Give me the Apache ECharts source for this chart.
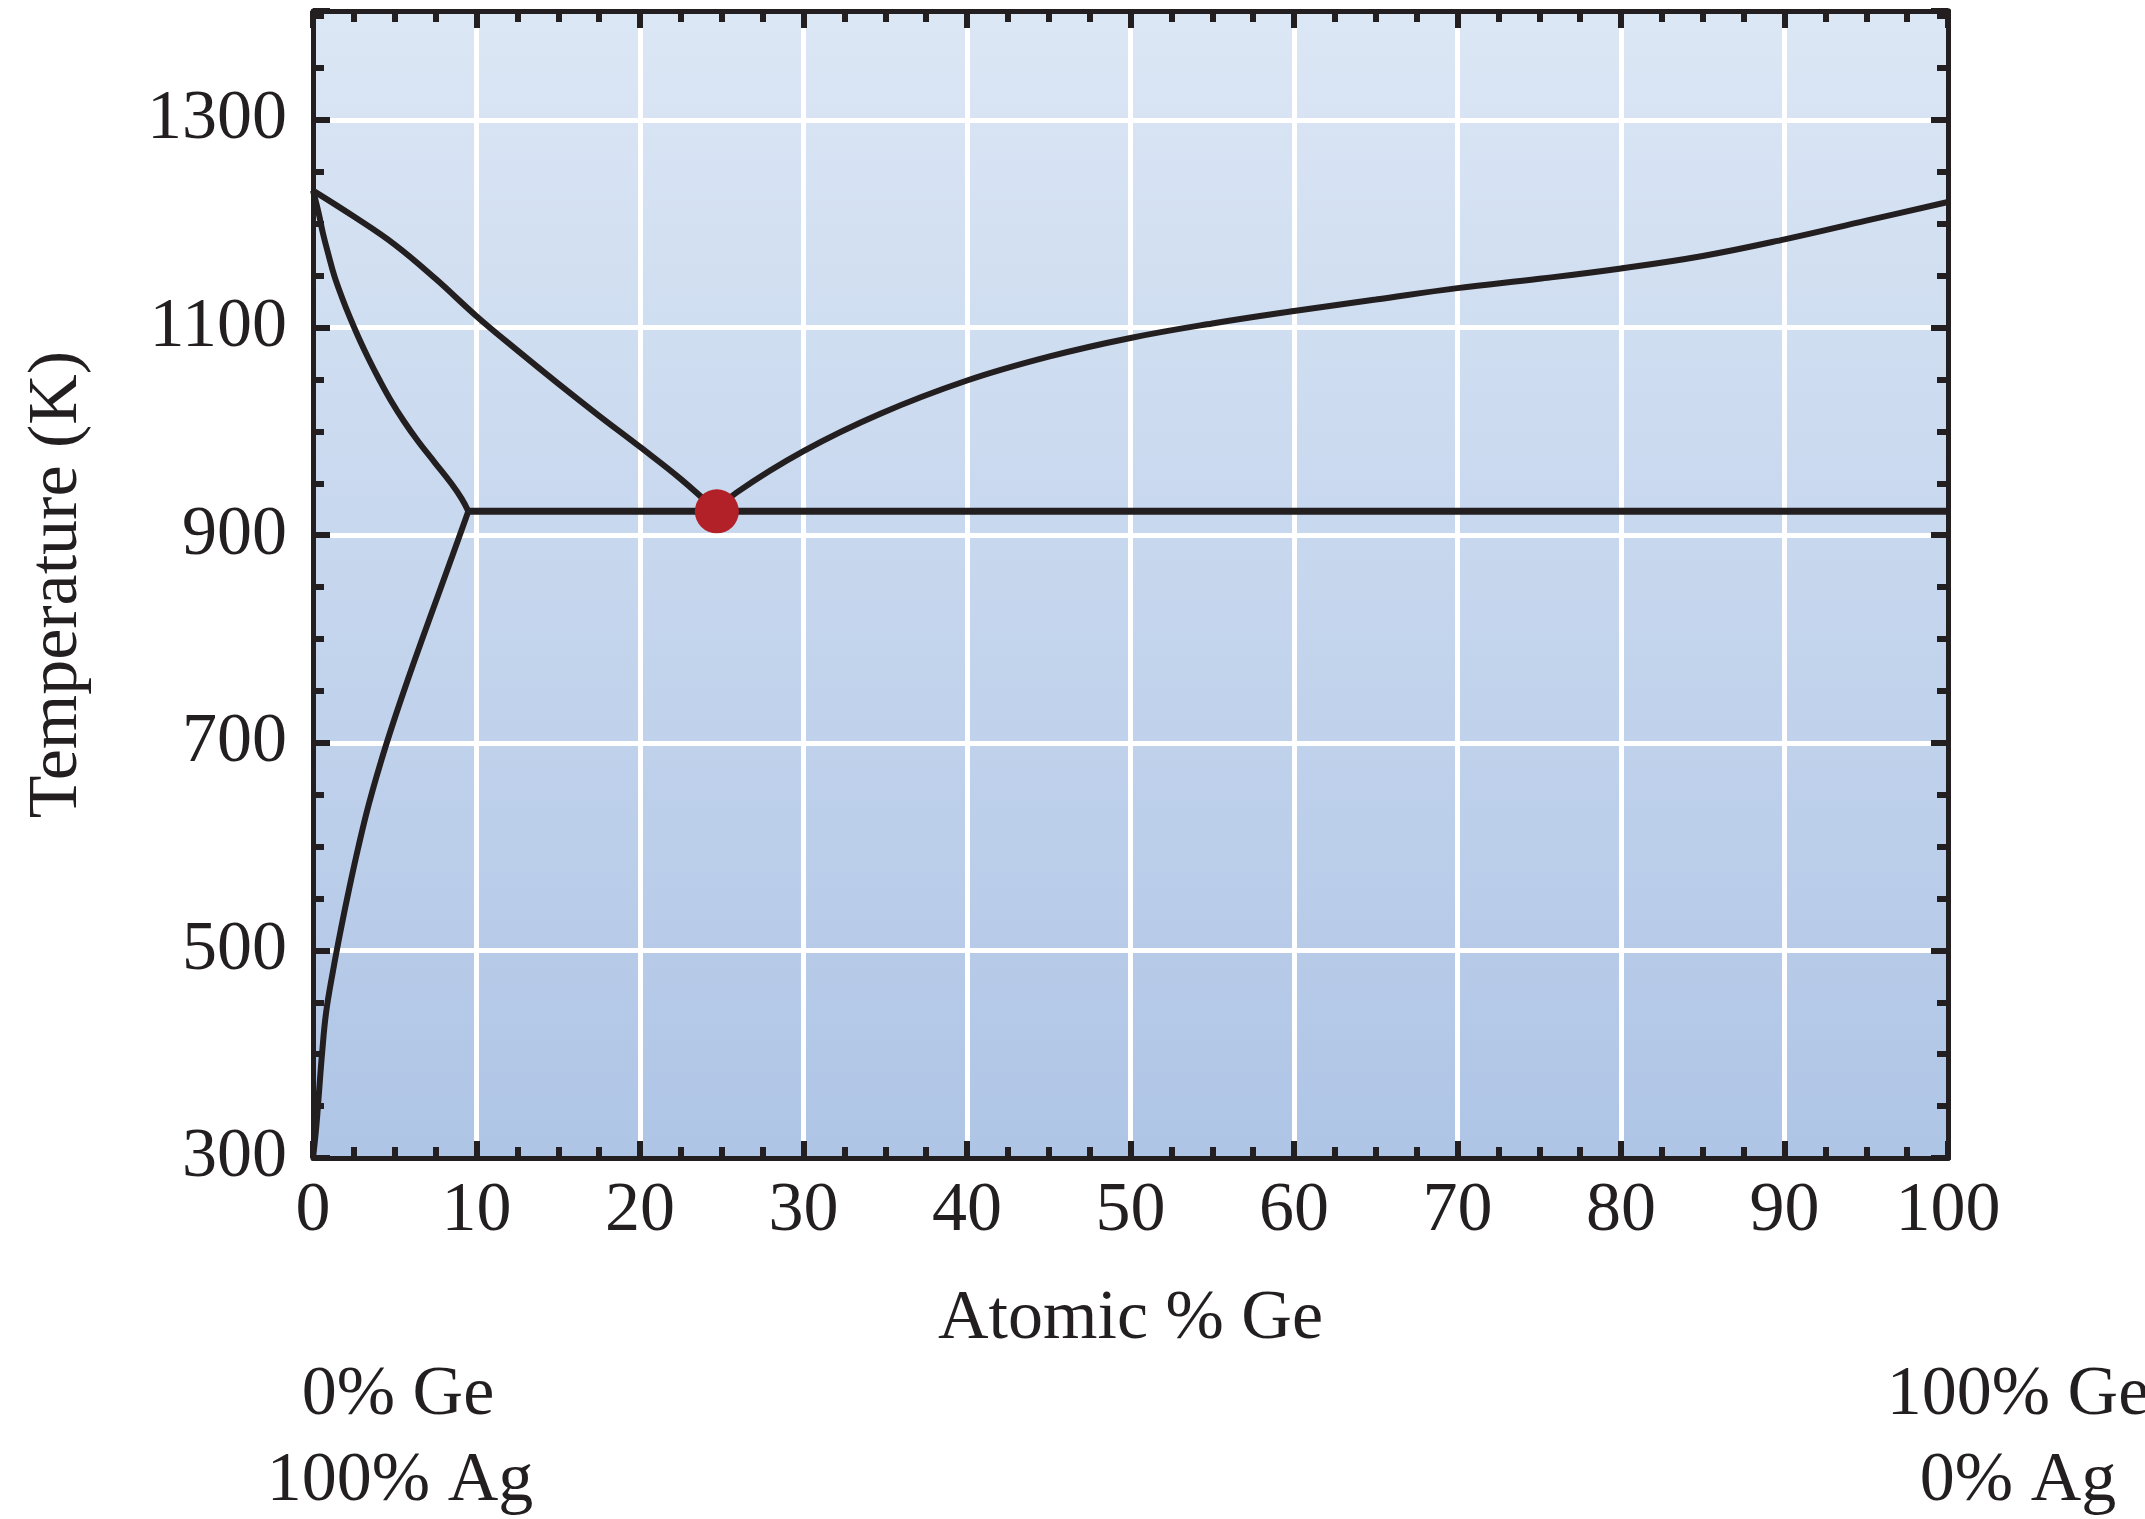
<!DOCTYPE html>
<html>
<head>
<meta charset="utf-8">
<script src="https://cdn.jsdelivr.net/npm/echarts@6/dist/echarts.min.js"></script>
<style>
html,body{margin:0;padding:0;background:#fff;}
#chart{width:2145px;height:1519px;}
</style>
</head>
<body>
<div id="chart"></div>
<script>
// ---- data ----
const liquidusAg = [[0,1232],[2.5,1207],[5,1180],[7.5,1147],[10,1111],[12.5,1078],[15,1046],[17.5,1015],[20,985],[22.5,954],[24.7,923]];
const solidusAg = [[0,1232],[0.35,1210],[0.62,1190],[0.95,1170],[1.3,1150],[1.75,1130],[2.25,1110],[2.8,1090],[3.4,1070],[4.05,1050],[4.75,1030],[5.55,1010],[6.45,990],[7.45,970],[8.45,950],[9.1,935],[9.5,923]];
const solvusAg = [[9.5,923],[8.52,880],[7.6,840],[6.68,800],[5.78,760],[4.92,720],[4.12,680],[3.4,640],[2.78,600],[2.22,560],[1.7,520],[1.22,480],[0.8,440],[0.55,400],[0.35,360],[0.2,330],[0,300]];
const liquidusGe = [[24.7,923],[25.9,941],[30,981],[34.7,1017],[40,1049],[45,1072],[50,1090],[55,1104],[60,1116],[65,1127],[70,1138],[75,1147],[80,1157],[85,1169],[90,1185],[95,1203],[100,1221]];
const eutecticLine = [[9.5,923],[100,923]];
const eutecticPoint = [[24.7,923]];
const xTitle = 'Atomic % Ge';
const yTitle = 'Temperature (K)';
const cornerLabelsLeft = ['0% Ge','100% Ag'];
const cornerLabelsRight = ['100% Ge','0% Ag'];
const yLabelValues = [300,500,700,900,1100,1300];

const INK = '#231f20';
const FONT = '"Liberation Serif", "Times New Roman", serif';
const chart = echarts.init(document.getElementById('chart'));

function lineSeries(name, data) {
  return {
    name, type: 'line', data, showSymbol: false, symbol: 'none',
    smooth: 0.4,
    lineStyle: { color: INK, width: 6 }, z: 3, silent: true
  };
}

const frameLine = { show: true, onZero: false, lineStyle: { color: INK, width: 5 } };
const xBase = { type: 'value', min: 0, max: 100, interval: 10, axisLine: frameLine,
  axisTick: { show: true, inside: true, length: 17, lineStyle: { color: INK, width: 6 } },
  minorTick: { show: true, splitNumber: 4, length: 11, lineStyle: { color: INK, width: 6 } } };
const yMinor = { type: 'value', min: 300, max: 1405, interval: 50, axisLine: frameLine,
  axisTick: { show: true, inside: true, length: 11, lineStyle: { color: INK, width: 6 } },
  splitLine: { show: false } };
const yMajor = { type: 'value', min: 300, max: 1405, interval: 200, axisLine: frameLine,
  axisTick: { show: true, inside: true, length: 17, lineStyle: { color: INK, width: 6 } },
  axisLabel: { show: false } };

const textStyle = (t, x, y) => ({
  type: 'text', x, y, z: 10,
  style: { text: t, font: '70px ' + FONT, fill: INK, textAlign: 'center', textVerticalAlign: 'middle', align: 'center', verticalAlign: 'middle' }
});

chart.setOption({
  animation: false,
  backgroundColor: '#ffffff',
  grid: {
    left: 313, right: 197, top: 11, bottom: 361, show: true, borderWidth: 0,
    backgroundColor: { type: 'linear', x: 0, y: 0, x2: 0, y2: 1,
      colorStops: [{ offset: 0, color: '#dce7f5' }, { offset: 1, color: '#afc5e6' }] }
  },
  xAxis: [
    Object.assign({}, xBase, {
      position: 'bottom',
      splitLine: { show: true, lineStyle: { color: '#ffffff', width: 5 } },
      axisLabel: { show: true, fontFamily: FONT, fontSize: 70, color: INK, margin: 19 },
      name: xTitle, nameLocation: 'middle', nameGap: 127,
      nameTextStyle: { fontFamily: FONT, fontSize: 70, color: INK }
    }),
    Object.assign({}, xBase, { position: 'top', splitLine: { show: false }, axisLabel: { show: false } })
  ],
  yAxis: [
    Object.assign({}, yMinor, {
      position: 'left',
      axisLabel: { show: true, fontFamily: FONT, fontSize: 70, color: INK, margin: 26,
        formatter: v => (yLabelValues.indexOf(v) >= 0 ? String(v) : '') },
      name: yTitle, nameLocation: 'middle', nameGap: 220, nameRotate: 90,
      nameTextStyle: { fontFamily: FONT, fontSize: 70, color: INK }
    }),
    Object.assign({}, yMajor, { position: 'left',
      splitLine: { show: true, lineStyle: { color: '#ffffff', width: 5 } } }),
    Object.assign({}, yMinor, { position: 'right', axisLabel: { show: false } }),
    Object.assign({}, yMajor, { position: 'right', splitLine: { show: false } })
  ],
  series: [
    lineSeries('liquidus Ag side', liquidusAg),
    lineSeries('solidus Ag side', solidusAg),
    lineSeries('solvus Ag side', solvusAg),
    lineSeries('liquidus Ge side', liquidusGe),
    { name: 'eutectic', type: 'line', data: eutecticLine, showSymbol: false, symbol: 'none',
      lineStyle: { color: INK, width: 7 }, z: 3, silent: true },
    { name: 'eutectic point', type: 'scatter', data: eutecticPoint, symbol: 'circle', symbolSize: 44,
      itemStyle: { color: '#b22028', opacity: 1 }, z: 6, silent: true }
  ],
  graphic: [
    textStyle(cornerLabelsLeft[0], 398, 1396),
    textStyle(cornerLabelsLeft[1], 400, 1482),
    textStyle(cornerLabelsRight[0], 2018, 1396),
    textStyle(cornerLabelsRight[1], 2018, 1482)
  ]
});
</script>
</body>
</html>
